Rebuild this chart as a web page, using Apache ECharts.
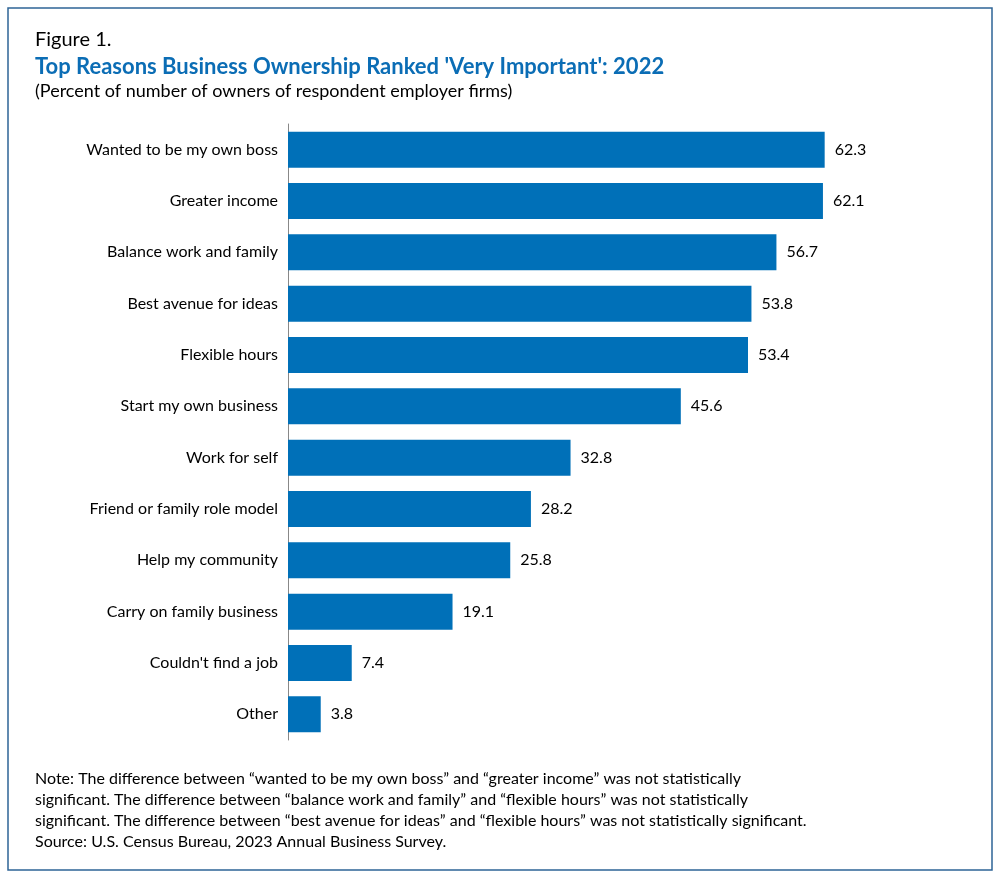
<!DOCTYPE html>
<html><head><meta charset="utf-8">
<script src="https://cdn.jsdelivr.net/npm/echarts@6/dist/echarts.min.js"></script>
<style>html,body{margin:0;padding:0;background:#fff}#c{width:1000px;height:878px}</style>
</head><body><div id="c"></div>
<script>
const categories = ["Wanted to be my own boss","Greater income","Balance work and family","Best avenue for ideas","Flexible hours","Start my own business","Work for self","Friend or family role model","Help my community","Carry on family business","Couldn't find a job","Other"];
const values = [62.3,62.1,56.7,53.8,53.4,45.6,32.8,28.2,25.8,19.1,7.4,3.8];
const noteLines = [
 "Note: The difference between \u201cwanted to be my own boss\u201d and \u201cgreater income\u201d was not statistically",
 "significant. The difference between \u201cbalance work and family\u201d and \u201cflexible hours\u201d was not statistically",
 "significant. The difference between \u201cbest avenue for ideas\u201d and \u201cflexible hours\u201d was not statistically significant.",
 "Source: U.S. Census Bureau, 2023 Annual Business Survey."
];
const F = "Lato, 'Open Sans', sans-serif";
const chart = echarts.init(document.getElementById('c'));
const g = [
 {type:'rect',shape:{x:8,y:8,width:984,height:862},style:{fill:'none',stroke:'#2e6496',lineWidth:1.5}},
 {type:'text',left:35,top:30,style:{text:'Figure 1.',font:'20px '+F,fill:'#000'}},
 {type:'text',left:35,top:56,style:{text:"Top Reasons Business Ownership Ranked 'Very Important': 2022",font:'bold 22px '+F,fill:'#0b6db5'}},
 {type:'text',left:35,top:82,style:{text:'(Percent of number of owners of respondent employer firms)',font:'18px '+F,fill:'#000'}}
];
noteLines.forEach((t,i)=>g.push({type:'text',left:35,top:771+i*21,style:{text:t,font:'16px '+F,fill:'#000'}}));
chart.setOption({
 animation:false,
 graphic:g,
 grid:{left:288,top:124,width:603,height:616},
 xAxis:{type:'value',min:0,max:70,show:false},
 yAxis:{type:'category',data:categories,inverse:true,
   axisLine:{show:true,lineStyle:{color:'#888'}},axisTick:{show:false},
   axisLabel:{fontFamily:F,fontSize:16,color:'#000',margin:10}},
 series:[{type:'bar',data:values,barWidth:36,itemStyle:{color:'#0070b8'},
   label:{show:true,position:'right',distance:10,fontFamily:F,fontSize:16,color:'#000',formatter:p=>p.value.toFixed(1)}}]
});
</script></body></html>
